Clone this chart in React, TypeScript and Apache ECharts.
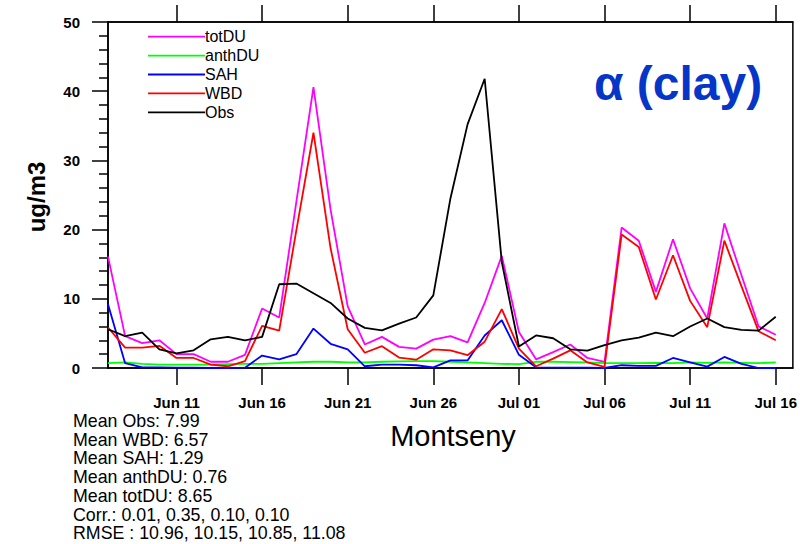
import React, { useEffect, useRef } from "react";
import * as echarts from "echarts";

// Daily dates, Jun 07 .. Jul 17 (the last day only pads the axis)
const categories: string[] = [];
for (let d = 7; d <= 30; d++) categories.push(`Jun ${String(d).padStart(2, "0")}`);
for (let d = 1; d <= 17; d++) categories.push(`Jul ${String(d).padStart(2, "0")}`);

// Dust concentrations (ug/m3), Jun 07 .. Jul 16
const totDU = [
  16.1, 4.6, 3.6, 4.0, 2.0, 2.0, 0.9, 0.9, 1.9, 8.6,
  7.3, 24.0, 40.6, 22.9, 8.9, 3.4, 4.5, 3.05, 2.8, 4.1,
  4.6, 3.7, 9.4, 16.2, 5.2, 1.25, 2.3, 3.4, 1.45, 0.9,
  20.3, 18.4, 11.0, 18.6, 11.5, 7.15, 20.9, 13.4, 6.0, 4.8,
];
const anthDU = [
  0.7, 0.8, 0.6, 0.5, 0.5, 0.5, 0.5, 0.55, 0.6, 0.6,
  0.7, 0.8, 0.9, 0.9, 0.8, 0.8, 0.9, 0.95, 1.0, 1.0,
  0.9, 0.8, 0.7, 0.6, 0.55, 0.9, 0.9, 0.85, 0.8, 0.7,
  0.7, 0.7, 0.75, 0.7, 0.8, 0.75, 0.8, 0.75, 0.7, 0.8,
];
const SAH = [
  9.2, 0.7, 0.1, 0.1, 0.05, 0.05, 0.0, 0.0, 0.05, 1.8,
  1.25, 2.0, 5.7, 3.5, 2.7, 0.25, 0.5, 0.5, 0.4, 0.1,
  1.1, 1.1, 4.7, 6.9, 1.9, 0.1, 0.05, 0.05, 0.05, 0.0,
  0.4, 0.3, 0.3, 1.45, 0.8, 0.2, 1.6, 0.6, 0.0, 0.0,
];
const WBD = [
  5.85, 2.95, 2.95, 3.2, 1.45, 1.45, 0.5, 0.25, 1.0, 6.1,
  5.4, 19.9, 34.0, 17.3, 5.6, 2.2, 3.15, 1.5, 1.2, 2.7,
  2.55, 1.85, 3.8, 8.5, 2.8, 0.25, 1.35, 2.55, 0.8, 0.15,
  19.3, 17.5, 9.9, 16.3, 9.7, 5.9, 18.4, 11.8, 5.3, 4.0,
];
const Obs = [
  5.6, 4.6, 5.1, 2.7, 2.1, 2.55, 4.15, 4.5, 4.0, 4.5,
  12.1, 12.2, 10.8, 9.4, 7.15, 5.8, 5.45, 6.4, 7.3, 10.5,
  24.5, 35.2, 41.8, 15.3, 3.1, 4.7, 4.3, 2.7, 2.5, 3.3,
  4.0, 4.4, 5.1, 4.6, 6.0, 7.15, 5.9, 5.5, 5.4, 7.4,
];

const seriesNames = ["totDU", "anthDU", "SAH", "WBD", "Obs"];
const seriesData = [totDU, anthDU, SAH, WBD, Obs];
const seriesColors = ["#ff00ff", "#00ff00", "#0000ff", "#ff0000", "#000000"];

// Summary statistics printed under the axis
const statLines = [
  "Mean Obs: 7.99",
  "Mean WBD: 6.57",
  "Mean SAH: 1.29",
  "Mean anthDU: 0.76",
  "Mean totDU: 8.65",
  "Corr.: 0.01, 0.35, 0.10, 0.10",
  "RMSE : 10.96, 10.15, 10.85, 11.08",
];

const FONT = "'Liberation Sans', Arial, Helvetica, sans-serif";
const LINE_W = 1.8;
const showTick = (i: number) => i % 5 === 4;

export default function App() {
  const ref = useRef<HTMLDivElement>(null);

  useEffect(() => {
    if (!ref.current) return;
    const chart = echarts.init(ref.current, null, { renderer: "svg" });

    const legendItems: any[] = [];
    seriesNames.forEach((name, k) => {
      const y = 36.7 + k * 18.9;
      legendItems.push({
        type: "line",
        shape: { x1: 148, y1: y, x2: 205, y2: y },
        style: { stroke: seriesColors[k], lineWidth: LINE_W },
      });
      legendItems.push({
        type: "text",
        x: 205,
        y,
        style: {
          text: name,
          fill: "#000",
          font: `16px ${FONT}`,
          textAlign: "left",
          textVerticalAlign: "middle",
        },
      });
    });

    const statItems = statLines.map((t, k) => ({
      type: "text",
      x: 73,
      y: 421 + k * 18.7,
      style: {
        text: t,
        fill: "#000",
        font: `17.8px ${FONT}`,
        textAlign: "left",
        textVerticalAlign: "middle",
      },
    }));

    chart.setOption({
      animation: false,
      backgroundColor: "#fff",
      grid: {
        left: 108,
        top: 22,
        right: 1,
        bottom: 176,
        show: true,
        borderColor: "#000",
        borderWidth: 1.5,
        containLabel: false,
      },
      xAxis: [
        {
          type: "category",
          data: categories,
          boundaryGap: false,
          position: "bottom",
          axisLine: { show: true, lineStyle: { color: "#000", width: 1.5 } },
          axisTick: { show: true, interval: showTick, length: 17, lineStyle: { color: "#000", width: 1.5 } },
          axisLabel: {
            show: true,
            interval: showTick,
            margin: 27,
            color: "#000",
            fontFamily: FONT,
            fontWeight: "bold",
            fontSize: 15,
          },
          splitLine: { show: false },
        },
        {
          type: "category",
          data: categories,
          boundaryGap: false,
          position: "top",
          axisLine: { show: true, lineStyle: { color: "#000", width: 1.5 } },
          axisTick: { show: true, interval: showTick, length: 17, lineStyle: { color: "#000", width: 1.5 } },
          axisLabel: { show: false },
          splitLine: { show: false },
        },
      ],
      yAxis: {
        type: "value",
        min: 0,
        max: 50,
        interval: 10,
        axisLine: { show: true, lineStyle: { color: "#000", width: 1.5 } },
        axisTick: { show: true, length: 16, lineStyle: { color: "#000", width: 1.5 } },
        minorTick: { show: true, splitNumber: 5, length: 9, lineStyle: { color: "#000", width: 1.5 } },
        axisLabel: {
          margin: 28,
          color: "#000",
          fontFamily: FONT,
          fontWeight: "bold",
          fontSize: 15,
        },
        splitLine: { show: false },
        minorSplitLine: { show: false },
      },
      series: seriesNames.map((name, k) => ({
        name,
        type: "line",
        xAxisIndex: 0,
        data: seriesData[k],
        symbol: "none",
        lineStyle: { color: seriesColors[k], width: LINE_W },
        itemStyle: { color: seriesColors[k] },
        z: 2 + k,
      })),
      graphic: [
        ...legendItems,
        ...statItems,
        {
          type: "text",
          x: 678,
          y: 83,
          style: {
            text: "α (clay)",
            fill: "#0536c8",
            font: `bold 48px ${FONT}`,
            textAlign: "center",
            textVerticalAlign: "middle",
          },
        },
        {
          type: "text",
          x: 453,
          y: 436,
          style: {
            text: "Montseny",
            fill: "#000",
            font: `29px ${FONT}`,
            textAlign: "center",
            textVerticalAlign: "middle",
          },
        },
        {
          type: "text",
          x: 36,
          y: 197,
          rotation: Math.PI / 2,
          style: {
            text: "ug/m3",
            fill: "#000",
            font: `bold 24px ${FONT}`,
            textAlign: "center",
            textVerticalAlign: "middle",
          },
        },
      ],
    });

    return () => chart.dispose();
  }, []);

  return (
    <div
      ref={ref}
      style={{ position: "fixed", left: 0, top: 0, width: 800, height: 544 }}
    />
  );
}
